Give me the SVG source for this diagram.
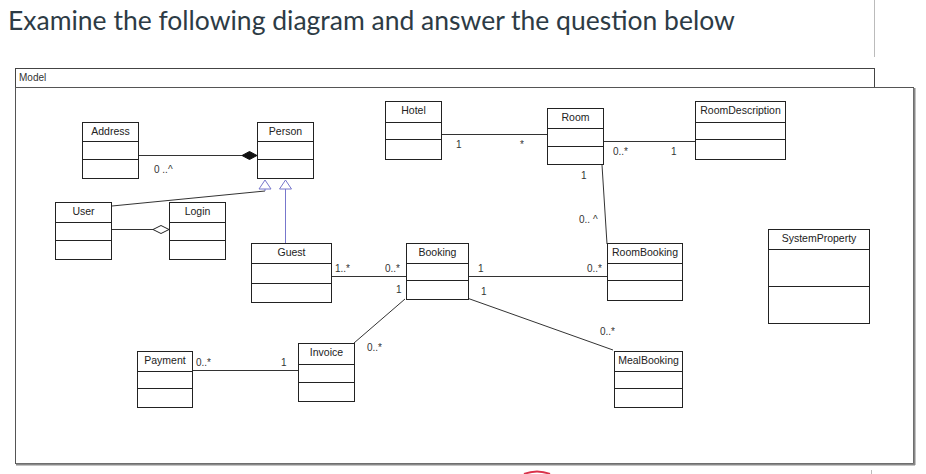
<svg xmlns="http://www.w3.org/2000/svg" width="926" height="474" viewBox="0 0 926 474">
<style>
.title{font-family:Lato,"Liberation Sans",sans-serif;font-size:26.5px;fill:#2d3b45}
.cls rect{fill:#fff;stroke:#222;stroke-width:1}
.cls line{stroke:#222;stroke-width:1}
.cls text{font-family:"Liberation Sans",Arial,sans-serif;font-size:10.5px;fill:#222;text-anchor:middle}
.lbl{font-family:"Liberation Sans",Arial,sans-serif;font-size:10px;fill:#333}
.conn{stroke:#333;stroke-width:1;fill:none}
.gen{stroke:#7777cc;stroke-width:1;fill:none}
</style>
<rect width="926" height="474" fill="#fff"/>
<text class="title" x="8" y="30">Examine the following diagram and answer the question below</text>
<line x1="874.5" y1="0" x2="874.5" y2="57" stroke="#bbb"/>
<line x1="871.5" y1="470" x2="871.5" y2="474" stroke="#bbb"/>
<path d="M524 474 Q537 469 550 474" fill="none" stroke="#d9324a" stroke-width="2"/>

<g id="frame">
<rect x="15.5" y="68.5" width="859" height="19" fill="#fff" stroke="#444"/>
<text class="lbl" x="19" y="81" font-size="10">Model</text>
<rect x="15.5" y="87.5" width="898" height="376" fill="#fff" stroke="#555"/>
<line x1="914.5" y1="88" x2="914.5" y2="465" stroke="#888" stroke-width="2"/>
<line x1="16" y1="464.5" x2="915" y2="464.5" stroke="#888" stroke-width="2"/>
</g>

<g id="connectors">
<line class="conn" x1="138" y1="155.5" x2="242" y2="155.5"/>
<polygon points="242,155.5 249.5,151.5 257,155.5 249.5,159.5" fill="#111" stroke="#111"/>
<text class="lbl" x="154" y="173">0 ..^</text>
<polyline class="conn" points="112,206 265,191"/>
<line class="gen" x1="265" y1="189" x2="265" y2="191"/>
<polygon class="gen" points="265,180 259,189 271,189" fill="#fff"/>
<line class="gen" x1="285.5" y1="189" x2="285.5" y2="243"/>
<polygon class="gen" points="285.5,180 279.5,189 291.5,189" fill="#fff"/>
<line class="conn" x1="111" y1="229.5" x2="153" y2="229.5"/>
<polygon points="153,229.5 161,225.5 169,229.5 161,233.5" fill="#fff" stroke="#222"/>
<line class="conn" x1="441" y1="134.5" x2="547" y2="134.5"/>
<text class="lbl" x="456" y="148">1</text>
<text class="lbl" x="520" y="148">*</text>
<line class="conn" x1="603" y1="141.5" x2="695" y2="141.5"/>
<text class="lbl" x="613" y="155">0..*</text>
<text class="lbl" x="671" y="155">1</text>
<line class="conn" x1="602" y1="165" x2="607" y2="244"/>
<text class="lbl" x="581" y="179">1</text>
<text class="lbl" x="579" y="223">0.. ^</text>
<line class="conn" x1="331" y1="276.5" x2="406" y2="276.5"/>
<text class="lbl" x="335" y="272">1..*</text>
<text class="lbl" x="385" y="272">0..*</text>
<text class="lbl" x="396" y="293">1</text>
<line class="conn" x1="468" y1="276.5" x2="607" y2="276.5"/>
<text class="lbl" x="478" y="272">1</text>
<text class="lbl" x="587" y="272">0..*</text>
<line class="conn" x1="467" y1="298" x2="613" y2="350"/>
<text class="lbl" x="481" y="295">1</text>
<text class="lbl" x="600" y="335">0..*</text>
<line class="conn" x1="405" y1="299" x2="354" y2="343"/>
<text class="lbl" x="367" y="351">0..*</text>
<line class="conn" x1="192" y1="370.5" x2="298" y2="370.5"/>
<text class="lbl" x="196" y="366">0..*</text>
<text class="lbl" x="281" y="366">1</text>
</g>

<g id="Address" class="cls">
<rect x="82.5" y="122.5" width="56" height="56"/>
<line x1="82.5" y1="141.5" x2="138.5" y2="141.5"/><line x1="82.5" y1="159.5" x2="138.5" y2="159.5"/>
<text x="110.5" y="135">Address</text>
</g>
<g id="Person" class="cls">
<rect x="257.5" y="122.5" width="56" height="56"/>
<line x1="257.5" y1="141.5" x2="313.5" y2="141.5"/><line x1="257.5" y1="159.5" x2="313.5" y2="159.5"/>
<text x="285.5" y="135">Person</text>
</g>
<g id="User" class="cls">
<rect x="55.5" y="202.5" width="56" height="57"/>
<line x1="55.5" y1="222.5" x2="111.5" y2="222.5"/><line x1="55.5" y1="240.5" x2="111.5" y2="240.5"/>
<text x="83.5" y="215">User</text>
</g>
<g id="Login" class="cls">
<rect x="169.5" y="202.5" width="56" height="57"/>
<line x1="169.5" y1="222.5" x2="225.5" y2="222.5"/><line x1="169.5" y1="240.5" x2="225.5" y2="240.5"/>
<text x="197.5" y="215">Login</text>
</g>
<g id="Hotel" class="cls">
<rect x="385.5" y="101.5" width="56" height="58"/>
<line x1="385.5" y1="122.5" x2="441.5" y2="122.5"/><line x1="385.5" y1="139.5" x2="441.5" y2="139.5"/>
<text x="413.5" y="114">Hotel</text>
</g>
<g id="Room" class="cls">
<rect x="547.5" y="108.5" width="56" height="56"/>
<line x1="547.5" y1="128.5" x2="603.5" y2="128.5"/><line x1="547.5" y1="146.5" x2="603.5" y2="146.5"/>
<text x="575.5" y="121">Room</text>
</g>
<g id="RoomDescription" class="cls">
<rect x="695.5" y="101.5" width="90" height="58"/>
<line x1="695.5" y1="122.5" x2="785.5" y2="122.5"/><line x1="695.5" y1="139.5" x2="785.5" y2="139.5"/>
<text x="740.5" y="114">RoomDescription</text>
</g>
<g id="Guest" class="cls">
<rect x="251.5" y="243.5" width="80" height="59"/>
<line x1="251.5" y1="263.5" x2="331.5" y2="263.5"/><line x1="251.5" y1="283.5" x2="331.5" y2="283.5"/>
<text x="291.5" y="256">Guest</text>
</g>
<g id="Booking" class="cls">
<rect x="406.5" y="243.5" width="62" height="56"/>
<line x1="406.5" y1="263.5" x2="468.5" y2="263.5"/><line x1="406.5" y1="280.5" x2="468.5" y2="280.5"/>
<text x="437.5" y="256">Booking</text>
</g>
<g id="RoomBooking" class="cls">
<rect x="607.5" y="243.5" width="75" height="57"/>
<line x1="607.5" y1="263.5" x2="682.5" y2="263.5"/><line x1="607.5" y1="280.5" x2="682.5" y2="280.5"/>
<text x="645" y="256">RoomBooking</text>
</g>
<g id="SystemProperty" class="cls">
<rect x="768.5" y="229.5" width="101" height="94"/>
<line x1="768.5" y1="249.5" x2="869.5" y2="249.5"/><line x1="768.5" y1="286.5" x2="869.5" y2="286.5"/>
<text x="819" y="242">SystemProperty</text>
</g>
<g id="Invoice" class="cls">
<rect x="298.5" y="343.5" width="56" height="58"/>
<line x1="298.5" y1="364.5" x2="354.5" y2="364.5"/><line x1="298.5" y1="382.5" x2="354.5" y2="382.5"/>
<text x="326.5" y="356">Invoice</text>
</g>
<g id="Payment" class="cls">
<rect x="137.5" y="351.5" width="55" height="56"/>
<line x1="137.5" y1="371.5" x2="192.5" y2="371.5"/><line x1="137.5" y1="388.5" x2="192.5" y2="388.5"/>
<text x="165" y="364">Payment</text>
</g>
<g id="MealBooking" class="cls">
<rect x="614.5" y="351.5" width="68" height="56"/>
<line x1="614.5" y1="371.5" x2="682.5" y2="371.5"/><line x1="614.5" y1="388.5" x2="682.5" y2="388.5"/>
<text x="648.5" y="364">MealBooking</text>
</g>
</svg>
